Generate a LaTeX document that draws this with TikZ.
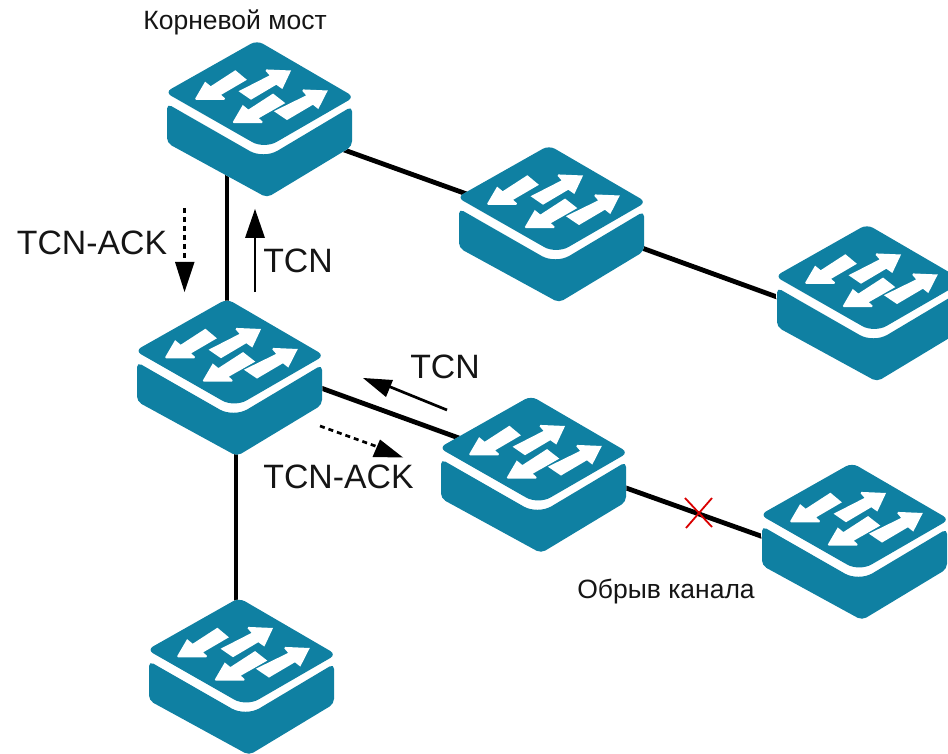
\documentclass[tikz,border=0pt]{standalone}
\usepackage{fontspec}
\setmainfont{Liberation Sans}
\usetikzlibrary{backgrounds,calc}
\definecolor{swteal}{HTML}{0F80A2}
\definecolor{txt}{HTML}{151515}
\tikzset{
  x=1pt,y=-1pt,
  swnode/.style={minimum width=185pt,minimum height=155pt,inner sep=0pt,outer sep=0pt},
  link/.style={line width=4.8pt,black},
  flow/.style={line width=2.7pt,black},
  flowdash/.style={line width=2.7pt,black,dash pattern=on 5pt off 4pt},
  head/.style={fill=black,draw=none},
  lab/.style={inner sep=0pt,text=txt,font=\fontsize{33.8}{34}\selectfont},
  note/.style={inner sep=0pt,text=txt,font=\fontsize{26.5}{28}\selectfont},
  arrowshape/.style={fill=white,draw=white,line width=1.8pt,line join=miter,miter limit=2},
  switch/.pic={
    \begin{scope}[x=.33333pt,y=-.33333pt,shift={(-387.5,-359.5)}]
      \fill[white] [rounded corners=6pt] (380,122) -- (668,292) -- (665,440) -- (410,594) -- (110,430) -- (106,278) -- cycle;
      \fill[swteal] [rounded corners=7pt] (380,122) -- (672,292) [rounded corners=14pt] -- (402,448) [rounded corners=7pt] -- (104,278) -- cycle;
      \fill[swteal] [rounded corners=5pt] (110,312) [rounded corners=16pt] -- (400,478) [rounded corners=5pt] -- (665,320) -- (665,440) -- (410,594) -- (110,430) -- cycle;
      \path[arrowshape] (197,298) -- (225,250) -- (241,263) -- (315,215) -- (345,240) -- (268,285) -- (282,298) -- cycle;
      \path[arrowshape] (330,275) -- (362,297) -- (438,252) -- (455,264) -- (478,215) -- (408,212) -- (422,228) -- cycle;
      \path[arrowshape] (310,368) -- (338,320) -- (354,333) -- (428,285) -- (460,310) -- (381,355) -- (395,368) -- cycle;
      \path[arrowshape] (436,335) -- (470,358) -- (548,312) -- (563,324) -- (588,275) -- (518,272) -- (532,288) -- cycle;
    \end{scope}
  }
}
\begin{document}
\begin{tikzpicture}
\useasboundingbox (0,0) rectangle (948,754);
\foreach \n/\cx/\cy in {root/259.5/119.5, mida/551.5/224.5, rita/869.5/303.5, left/229.5/378, midb/533.5/475, ritb/854.5/542, bot/241.5/677}{
  \node[swnode] (\n) at (\cx,\cy) {};
  \pic at (\n.center) {switch};
}
\begin{scope}[on background layer]
  \draw[link] ($(root.center)+(-32.5,40)$) -- ($(left.center)+(-2.5,-60)$);
  \draw[link] (root.center) -- (mida.center);
  \draw[link] ($(mida.center)+(80,19.7)$) -- ($(rita.center)+(-82,-2.7)$);
  \draw[link] ($(left.center)+(81.5,6.4)$) -- ($(midb.center)+(-67.5,-34.4)$);
  \draw[link] ($(midb.center)+(82.5,9.4)$) -- ($(ritb.center)+(-82.5,-2)$);
  \draw[link] ($(left.center)+(6.5,70)$) -- ($(bot.center)+(-5.5,-60)$);
\end{scope}
\coordinate (xa) at (685,498); \coordinate (xb) at (712,527);
\coordinate (xc) at (712,498); \coordinate (xd) at (686,528);
\draw[line width=1.8pt,red!85!black] (xa) -- (xb) (xc) -- (xd);

\coordinate (u0) at (255,292); \coordinate (u1) at (255,232);
\draw[flow] (u0) -- (u1);
\fill[head] (255,209) -- (265,238) -- (245,238) -- cycle;
\coordinate (d0) at (184.5,208); \coordinate (d1) at (184.5,268);
\draw[flowdash] (d0) -- (d1);
\fill[head] (184.5,292) -- (194.5,262) -- (175,262) -- cycle;
\coordinate (l0) at (447,410); \coordinate (l1) at (388,386);
\draw[flow] (l0) -- (l1);
\fill[head] (363,378) -- (393,380) -- (386,397) -- cycle;
\coordinate (r0) at (320,426); \coordinate (r1) at (378,447);
\draw[flowdash] (r0) -- (r1);
\fill[head] (403,457.5) -- (380,439.5) -- (372.5,457) -- cycle;

\node[note] (t1) at (235,22) {Корневой мост};
\node[lab] (t2) at (92,243) {TCN-ACK};
\node[lab] (t3) at (298,261) {TCN};
\node[lab] (t4) at (445,367) {TCN};
\node[lab] (t5) at (338.5,477) {TCN-ACK};
\node[note] (t6) at (666,592) {Обрыв канала};
\end{tikzpicture}
\end{document}
